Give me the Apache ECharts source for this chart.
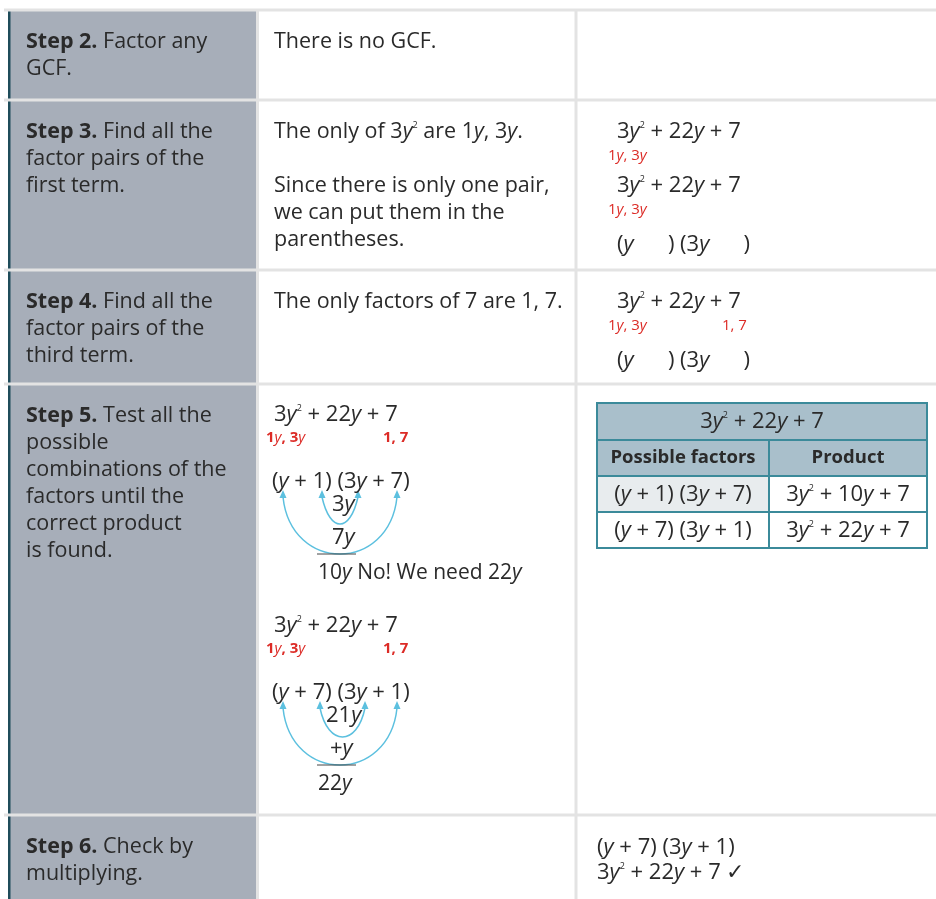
<!DOCTYPE html>
<html>
<head>
<meta charset="utf-8">
<script src="https://cdn.jsdelivr.net/npm/echarts@6/dist/echarts.min.js"></script>
<style>
  html, body { margin: 0; padding: 0; background: #fff; }
  #main { width: 936px; height: 899px; }
</style>
</head>
<body>
<div id="main"></div>
<script>
//----------- Table text
const stepLabels = [
    ["{b|Step 2.} Factor any", "GCF."],
    ["{b|Step 3.} Find all the", "factor pairs of the", "first term."],
    ["{b|Step 4.} Find all the", "factor pairs of the", "third term."],
    ["{b|Step 5.} Test all the", "possible", "combinations of the", "factors until the", "correct product", "is found."],
    ["{b|Step 6.} Check by", "multiplying."]
];
const explanations = [
    ["There is no GCF."],
    ["The only of 3{i|y}{s|2} are 1{i|y}, 3{i|y}.", "", "Since there is only one pair,", "we can put them in the", "parentheses."],
    ["The only factors of 7 are 1, 7."],
    [],
    []
];
const trinomial = "3{i|y}{s|2} + 22{i|y} + 7";
const firstPair = "1{i|y}, 3{i|y}";
const lastPair = "1, 7";
const emptyBinomials = "({i|y}      ) (3{i|y}      )";
const trials = ["({i|y} + 1) (3{i|y} + 7)", "({i|y} + 7) (3{i|y} + 1)"];
const innerTerms = ["3{i|y}", "21{i|y}"];
const outerTerms = ["7{i|y}", "+{i|y}"];
const sums = ["10{i|y} No! We need 22{i|y}", "22{i|y}"];
const tableHeader = [trinomial];
const tableColumns = ["Possible factors", "Product"];
const tableProducts = ["3{i|y}{s|2} + 10{i|y} + 7", "3{i|y}{s|2} + 22{i|y} + 7"];
const checkLines = [trials[1], trinomial + " \u2713"];
//----------- Table text

const myChart = echarts.init(document.getElementById("main"), null, {renderer: "canvas"});

const FONT = "'Open Sans', 'Noto Sans', sans-serif";
const INK = "#2a2a2a";
const RED = "#dc2b26";
const ARC = "#5cc0df";
const SEP = "#e3e3e3";
const BODY = 21.5;   // plain sentences
const MATH = 22;     // formulas

function rich(size, color) {
    return {
        b: {fontFamily: FONT, fontSize: size, fontWeight: "bold", fill: color},
        i: {fontFamily: FONT, fontSize: size, fontStyle: "italic", fill: color},
        s: {fontFamily: FONT, fontSize: Math.round(size * 0.42), fill: color, verticalAlign: "top", padding: [0, 0, 7, 0]}
    };
}

function txt(str, x, y, opt) {
    opt = opt || {};
    const size = opt.size || MATH;
    const color = opt.color || INK;
    return {
        type: "text", x: x, y: y, z: 10,
        style: {
            text: str, fontFamily: FONT, fontSize: size, fontWeight: opt.weight || "normal",
            fill: color, align: opt.align || "left", verticalAlign: "middle",
            rich: rich(size, color)
        }
    };
}

const g = [];

//---Row layout
const rowEdges = [10, 100, 270, 384, 815, 902];
const colEdges = [10, 257, 576, 936];
const LINE = 27;

// gray first column + dark left rule
for (let r = 0; r < 5; r++) {
    g.push({type: "rect", shape: {x: colEdges[0], y: rowEdges[r], width: colEdges[1] - colEdges[0], height: rowEdges[r + 1] - rowEdges[r]},
        style: {fill: "#a7aeb9"}});
    g.push({type: "rect", shape: {x: 8, y: rowEdges[r] + 1, width: 2.5, height: rowEdges[r + 1] - rowEdges[r] - 1},
        style: {fill: "#1f4c5a"}, z: 2});
}
// row separators
rowEdges.slice(0, 5).forEach(y => {
    g.push({type: "line", shape: {x1: 4, y1: y, x2: 936, y2: y}, style: {stroke: SEP, lineWidth: 3}, z: 3});
});
// column separators
[colEdges[1] + 0.5, colEdges[2]].forEach(x => {
    g.push({type: "line", shape: {x1: x, y1: rowEdges[0], x2: x, y2: 899}, style: {stroke: SEP, lineWidth: 3}, z: 3});
});

// column 1 and column 2
stepLabels.forEach((lines, r) => {
    lines.forEach((l, k) => g.push(txt(l, 26, rowEdges[r] + 32 + k * LINE, {size: BODY})));
});
explanations.forEach((lines, r) => {
    lines.forEach((l, k) => { if (l) g.push(txt(l, 274, rowEdges[r] + 32 + k * LINE, {size: BODY})); });
});

// column 3, steps 3 and 4
function pairBlock(y, withLast) {
    g.push(txt(trinomial, 617, y));
    g.push(txt(firstPair, 608, y + 24, {size: 15, color: RED}));
    if (withLast) g.push(txt(lastPair, 722, y + 24, {size: 15, color: RED}));
}
pairBlock(132, false);
pairBlock(186, false);
g.push(txt(emptyBinomials, 617, 245));
pairBlock(302, true);
g.push(txt(emptyBinomials, 617, 361));

// column 2, step 5 trials
function arrowHead(x, y) {
    return {type: "polygon", shape: {points: [[x, y - 3], [x - 3.5, y + 5], [x + 3.5, y + 5]]}, style: {fill: ARC}, z: 6};
}
function arc(x1, x2, y, bottom) {
    const cp = (bottom - 0.25 * y) / 0.75;
    g.push({type: "bezierCurve", shape: {x1: x1, y1: y + 4, x2: x2, y2: y + 4, cpx1: x1 + 8, cpy1: cp, cpx2: x2 - 8, cpy2: cp},
        style: {stroke: ARC, lineWidth: 1.5, fill: null}, z: 5});
    g.push(arrowHead(x1, y));
    g.push(arrowHead(x2, y));
}
[415, 626].forEach((y0, t) => {
    g.push(txt(trinomial, 274, y0));
    g.push(txt(firstPair, 266, y0 + 23, {size: 15, color: RED, weight: "bold"}));
    g.push(txt(lastPair, 383, y0 + 23, {size: 15, color: RED, weight: "bold"}));
    g.push(txt(trials[t], 272, y0 + 67));
    const ya = y0 + 78;
    arc(283, 397, ya, y0 + 138);
    if (t === 0) arc(322, 358, ya, y0 + 108); else arc(320, 365, ya, y0 + 110);
    g.push(txt(innerTerms[t], t === 0 ? 332 : 326, y0 + 90));
    g.push(txt(outerTerms[t], t === 0 ? 332 : 330, y0 + 123));
    g.push({type: "line", shape: {x1: 317, y1: y0 + 139, x2: 356, y2: y0 + 139}, style: {stroke: "#444", lineWidth: 1}, z: 5});
    g.push(txt(sums[t], 318, y0 + 158, {size: 21}));
});

// column 3, step 5 small table
const T = {x: 597, y: 403, w: 330, split: 769, rows: [403, 440, 476, 512, 548]};
const TEAL = "#3b8a9a";
g.push({type: "rect", shape: {x: T.x, y: T.rows[0], width: T.w, height: T.rows[2] - T.rows[0]}, style: {fill: "#a9bfcb"}, z: 4});
g.push({type: "rect", shape: {x: T.x, y: T.rows[2], width: T.split - T.x, height: T.rows[3] - T.rows[2]}, style: {fill: "#e8ecee"}, z: 4});
g.push({type: "rect", shape: {x: T.x, y: T.rows[0], width: T.w, height: T.rows[4] - T.rows[0]}, style: {fill: null, stroke: TEAL, lineWidth: 2}, z: 7});
T.rows.slice(1, 4).forEach(y => {
    g.push({type: "line", shape: {x1: T.x, y1: y, x2: T.x + T.w, y2: y}, style: {stroke: TEAL, lineWidth: 2}, z: 7});
});
g.push({type: "line", shape: {x1: T.split, y1: T.rows[1], x2: T.split, y2: T.rows[4]}, style: {stroke: TEAL, lineWidth: 2}, z: 7});
const cL = (T.x + T.split) / 2, cR = (T.split + T.x + T.w) / 2;
g.push(txt(tableHeader[0], T.x + T.w / 2, 422, {align: "center"}));
g.push(txt(tableColumns[0], cL, 458, {align: "center", size: 18.5, weight: "bold"}));
g.push(txt(tableColumns[1], cR, 458, {align: "center", size: 18.5, weight: "bold"}));
trials.forEach((tr, k) => {
    g.push(txt(tr, cL, 495 + k * 36, {align: "center"}));
    g.push(txt(tableProducts[k], cR, 495 + k * 36, {align: "center"}));
});

// column 3, step 6
checkLines.forEach((l, k) => g.push(txt(l, 597, 848 + k * 25)));

myChart.setOption({
    backgroundColor: "#ffffff",
    animation: false,
    graphic: {elements: g}
});
</script>
</body>
</html>
